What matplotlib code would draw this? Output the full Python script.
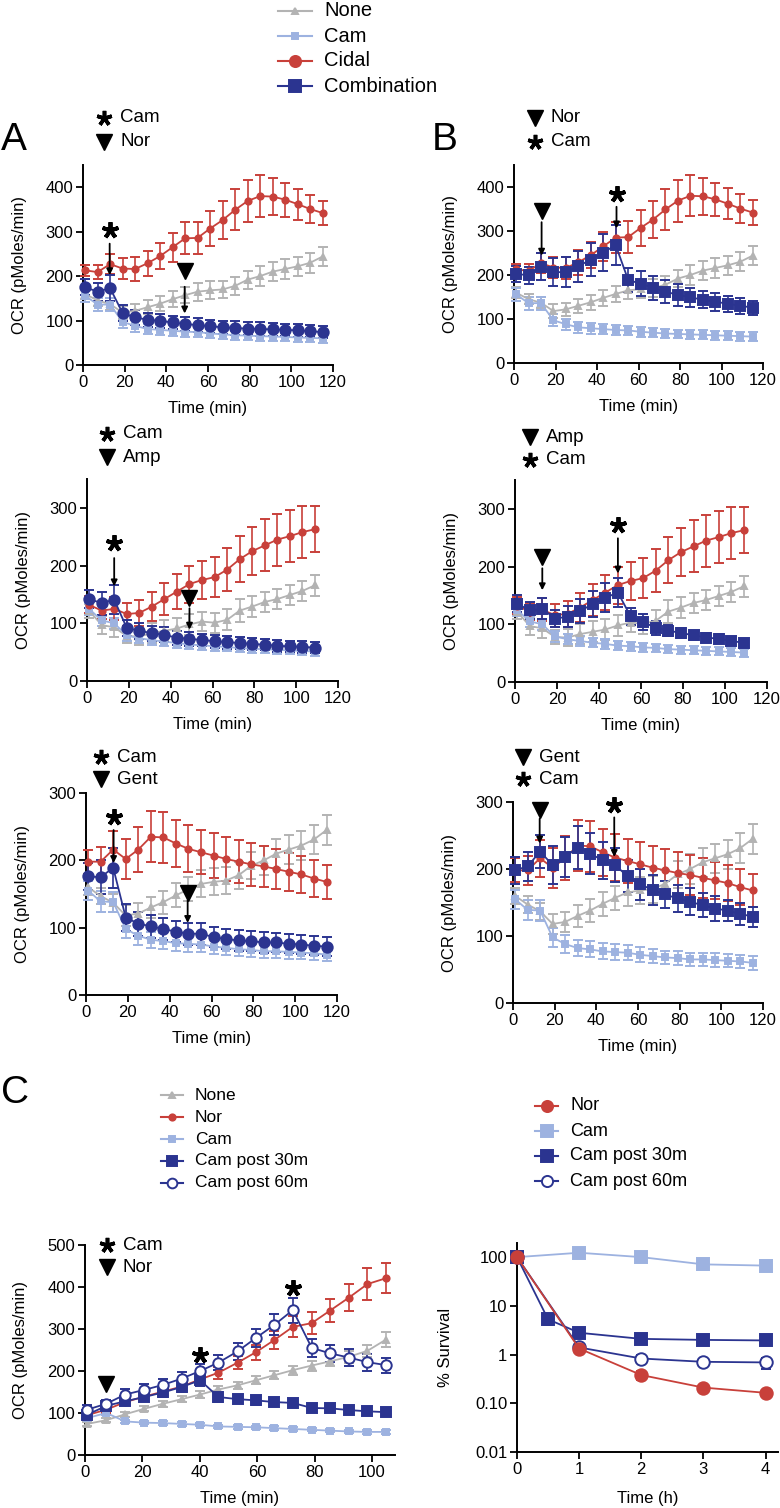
import numpy as np
import matplotlib
matplotlib.use("Agg")
import matplotlib.pyplot as plt
from matplotlib.ticker import FixedLocator, NullLocator

plt.rcParams['font.family'] = ['Liberation Sans', 'DejaVu Sans']

GRAY = '#b3b3b3'
LIGHT = '#9db2e0'
RED = '#c8403a'
NAVY = '#2b3490'

# ---- data: panels A/B (OCR, pMoles/min) ----
time_120 = [1, 7, 13, 19, 25, 31, 37, 43, 49, 55, 61, 67, 73, 79, 85, 91, 97, 103, 109, 115]
time_110 = [1, 7, 13, 19, 25, 31, 37, 43, 49, 55, 61, 67, 73, 79, 85, 91, 97, 103, 109]

nor_none = [160, 145, 137, 118, 122, 130, 138, 148, 157, 165, 168, 170, 178, 192, 200, 210, 216, 222, 230, 244]
nor_none_err = [12, 12, 13, 15, 15, 16, 17, 18, 18, 20, 20, 20, 20, 20, 22, 22, 22, 22, 22, 22]
nor_cam = [156, 136, 136, 97, 88, 81, 79, 77, 75, 74, 71, 69, 67, 66, 65, 64, 63, 62, 61, 60]
nor_cam_err = [14, 15, 15, 14, 13, 12, 12, 12, 12, 11, 11, 11, 10, 10, 10, 10, 10, 10, 10, 10]
nor_cidal = [213, 209, 227, 217, 216, 229, 245, 265, 285, 286, 307, 326, 349, 369, 380, 379, 372, 362, 351, 342]
nor_cidal_err = [13, 15, 22, 24, 26, 28, 30, 33, 36, 36, 40, 42, 46, 48, 47, 42, 38, 35, 32, 28]
nor_comb_a = [175, 165, 173, 117, 107, 102, 99, 96, 92, 90, 87, 85, 83, 82, 81, 80, 79, 78, 76, 74]
nor_comb_a_err = [18, 20, 30, 18, 17, 16, 15, 15, 15, 15, 15, 15, 15, 15, 15, 14, 14, 14, 14, 14]
nor_comb_b = [203, 199, 219, 206, 207, 220, 235, 251, 268, 189, 180, 171, 162, 155, 149, 144, 139, 135, 130, 126]
nor_comb_b_err = [18, 20, 30, 32, 35, 35, 38, 42, 45, 28, 28, 27, 26, 25, 22, 20, 20, 18, 18, 16]

amp_none = [122, 97, 93, 78, 77, 83, 87, 91, 98, 103, 101, 106, 122, 129, 137, 142, 149, 156, 166]
amp_none_err = [12, 15, 17, 12, 15, 17, 18, 18, 18, 17, 17, 18, 20, 18, 18, 18, 18, 18, 18]
amp_cam = [125, 105, 100, 79, 74, 71, 68, 66, 63, 62, 60, 59, 57, 56, 55, 54, 53, 52, 51]
amp_cam_err = [10, 10, 10, 9, 9, 9, 8, 8, 8, 8, 8, 7, 7, 7, 7, 7, 7, 7, 7]
amp_cidal = [132, 122, 125, 116, 118, 129, 142, 155, 168, 175, 180, 193, 211, 225, 235, 245, 251, 258, 263]
amp_cidal_err = [15, 15, 20, 20, 22, 25, 28, 30, 32, 33, 35, 37, 40, 42, 45, 45, 45, 45, 40]
amp_comb_a = [142, 135, 141, 92, 87, 83, 80, 75, 73, 71, 69, 67, 66, 64, 63, 61, 60, 59, 58]
amp_comb_a_err = [15, 20, 25, 14, 14, 13, 13, 12, 12, 11, 11, 11, 10, 10, 10, 10, 10, 10, 9]
amp_comb_b = [136, 124, 127, 110, 113, 123, 135, 146, 155, 114, 104, 94, 89, 85, 81, 77, 75, 71, 68]
amp_comb_b_err = [15, 15, 18, 15, 18, 20, 22, 25, 25, 15, 14, 12, 10, 9, 8, 8, 8, 7, 7]

gent_none = [160, 147, 137, 118, 121, 130, 138, 148, 157, 165, 168, 170, 178, 192, 200, 210, 216, 222, 231, 245]
gent_none_err = [12, 12, 13, 15, 15, 16, 17, 18, 18, 20, 20, 20, 20, 20, 22, 22, 22, 22, 22, 22]
gent_cam = [155, 139, 138, 98, 88, 82, 80, 77, 76, 75, 72, 70, 68, 67, 65, 65, 64, 63, 62, 60]
gent_cam_err = [14, 15, 15, 14, 13, 12, 12, 12, 12, 11, 11, 11, 10, 10, 10, 10, 10, 10, 10, 10]
gent_cidal = [198, 198, 216, 202, 216, 235, 234, 225, 217, 212, 207, 202, 198, 194, 191, 187, 183, 179, 173, 168]
gent_cidal_err = [18, 22, 28, 30, 33, 38, 38, 35, 35, 33, 33, 33, 32, 32, 30, 30, 28, 27, 27, 25]
gent_comb_a = [176, 175, 189, 115, 106, 102, 98, 94, 91, 91, 86, 83, 81, 80, 78, 78, 76, 75, 73, 72]
gent_comb_a_err = [20, 25, 30, 20, 18, 17, 17, 16, 16, 16, 15, 15, 15, 15, 15, 14, 14, 14, 14, 14]
gent_comb_b = [198, 204, 226, 206, 218, 232, 223, 213, 206, 189, 177, 169, 162, 156, 151, 146, 141, 138, 133, 129]
gent_comb_b_err = [20, 22, 25, 28, 30, 32, 30, 28, 25, 24, 23, 22, 20, 20, 20, 18, 18, 16, 16, 15]

# ---- data: panel C (OCR) ----
time_c = [0.8, 7.4, 14.0, 20.6, 27.2, 33.7, 40.1, 46.5, 53.2, 59.6, 66.0, 72.4, 79.0, 85.4, 92.0, 98.4, 104.9]
c_none = [74, 83, 97, 110, 122, 133, 144, 156, 166, 178, 190, 202, 213, 223, 234, 248, 275]
c_none_err = [5, 5, 6, 6, 7, 7, 8, 8, 9, 10, 10, 11, 12, 12, 14, 15, 17]
c_nor = [95, 108, 126, 139, 151, 163, 180, 196, 220, 245, 274, 305, 314, 344, 375, 407, 421]
c_nor_err = [6, 7, 8, 9, 10, 11, 12, 14, 16, 18, 22, 25, 26, 28, 32, 38, 35]
c_cam = [88, 100, 80, 77, 76, 74, 72, 68, 67, 66, 64, 62, 60, 58, 56, 55, 55]
c_cam_err = [4, 4, 4, 4, 4, 4, 4, 4, 4, 4, 4, 4, 4, 4, 4, 4, 4]
c_post30 = [96, 117, 128, 138, 149, 162, 178, 138, 133, 130, 126, 124, 112, 111, 107, 104, 102]
c_post30_err = [8, 10, 10, 10, 12, 12, 14, 12, 10, 10, 9, 9, 8, 8, 8, 7, 7]
c_post60 = [108, 122, 144, 155, 167, 182, 200, 220, 247, 279, 310, 345, 255, 242, 232, 221, 214]
c_post60_err = [10, 10, 12, 13, 14, 15, 16, 18, 20, 22, 25, 30, 22, 20, 20, 20, 18]

# ---- data: panel C survival ----
surv_time = [0, 1, 2, 3, 4]
surv_nor = [100, 1.33, 0.38, 0.21, 0.164]
surv_nor_err = [0, 0.2, 0.08, 0.02, 0.02]
surv_cam = [100, 123, 100, 71, 67]
surv_cam_err = [0, 25, 12, 6, 5]
surv30_time = [0, 0.5, 1, 2, 3, 4]
surv_30 = [100, 5.3, 2.8, 2.1, 2.0, 1.95]
surv_30_err = [0, 1.3, 0.4, 0.3, 0.25, 0.25]
surv_60 = [100, 1.4, 0.83, 0.71, 0.69]
surv_60_err = [0, 0.12, 0.15, 0.06, 0.18]

W, H = 780, 1508
fig = plt.figure(figsize=(W / 100, H / 100), dpi=100)


def axes_px(l, t, r, b):
    return fig.add_axes([l / W, 1 - b / H, (r - l) / W, (b - t) / H])


def style(ax):
    for s in ['top', 'right']:
        ax.spines[s].set_visible(False)
    for s in ['left', 'bottom']:
        ax.spines[s].set_linewidth(1.4)
    ax.tick_params(direction='out', length=5, width=1.3, labelsize=12, pad=2)


def series(ax, t, y, e, color, marker, ms, mfc=None, lw=1.3):
    ax.errorbar(t, y, yerr=e, color=color, marker=marker, ms=ms, mfc=mfc or color,
                mec=color, mew=1.4, lw=lw, elinewidth=1.2, capsize=3.5, capthick=1.2,
                clip_on=False, zorder=3)


def star(ax, t, y):
    ax.plot([t], [y], marker=(5, 2, 0), ms=12, mew=2.8, color='k', clip_on=False, zorder=5)


def tri(ax, t, y):
    ax.plot([t], [y], marker='v', ms=12, color='k', clip_on=False, zorder=5)


def arrow(ax, t, y0, y1):
    ax.annotate('', xy=(t, y1), xytext=(t, y0),
                arrowprops=dict(arrowstyle='-|>', color='k', lw=1.3, mutation_scale=9,
                                shrinkA=0, shrinkB=0), zorder=6)


def ocr_panel(ax, ymax, xmax, tt, none, none_e, cam, cam_e, cid, cid_e, comb, comb_e, comb_marker):
    style(ax)
    series(ax, tt, none, none_e, GRAY, '^', 5)
    series(ax, tt, cam, cam_e, LIGHT, 's', 4.5)
    series(ax, tt, cid, cid_e, RED, 'o', 4.5)
    series(ax, tt, comb, comb_e, NAVY, comb_marker, 7.5)
    ax.set_xlim(0, xmax)
    ax.set_ylim(0, ymax)
    ax.set_xticks([0, 20, 40, 60, 80, 100, 120])
    ax.set_yticks(range(0, int(ymax) + 1, 100))
    ax.set_ylabel('OCR (pMoles/min)', fontsize=12, labelpad=13)
    ax.set_xlabel('Time (min)', fontsize=12, labelpad=8)


# overlay for keys, legends and panel letters (pixel coordinates)
ov = fig.add_axes([0, 0, 1, 1], zorder=10)
ov.set_xlim(0, W)
ov.set_ylim(H, 0)
ov.axis('off')


def key(x, y, sym, label, fs=13.5):
    if sym == '*':
        ov.plot([x], [y], marker=(5, 2, 0), ms=11, mew=2.6, color='k')
    else:
        ov.plot([x], [y], marker='v', ms=12, color='k')
    ov.text(x + 16, y, label, fontsize=fs, va='center', ha='left')


def leg_row(x0, x1, y, color, marker, ms, label, fs, mfc=None):
    ov.plot([x0, x1], [y, y], color=color, lw=1.5)
    ov.plot([(x0 + x1) / 2], [y], marker=marker, ms=ms, color=color, mfc=mfc or color, mew=1.4)
    ov.text(x1 + 12, y, label, fontsize=fs, va='center', ha='left')


# top legend
leg_row(278, 312, 11, GRAY, '^', 5, 'None', 14.5)
leg_row(278, 312, 36, LIGHT, 's', 5, 'Cam', 14.5)
leg_row(278, 312, 61, RED, 'o', 8, 'Cidal', 14.5)
leg_row(278, 312, 86, NAVY, 's', 8, 'Combination', 14.5)

ov.text(1, 140, 'A', fontsize=28, va='center', ha='left')
ov.text(432, 140, 'B', fontsize=28, va='center', ha='left')
ov.text(1, 1093, 'C', fontsize=28, va='center', ha='left')

# --- row 1: Nor ---
axA = axes_px(83, 165, 333, 365)
ocr_panel(axA, 450, 120, time_120, nor_none, nor_none_err, nor_cam, nor_cam_err,
          nor_cidal, nor_cidal_err, nor_comb_a, nor_comb_a_err, 'o')
star(axA, 12.8, 303)
arrow(axA, 12.8, 273, 202)
tri(axA, 48.8, 212)
arrow(axA, 48.8, 176, 116)
key(104, 118, '*', 'Cam')
key(104, 142, 'v', 'Nor')

axB = axes_px(514, 165, 763, 363)
ocr_panel(axB, 450, 120, time_120, nor_none, nor_none_err, nor_cam, nor_cam_err,
          nor_cidal, nor_cidal_err, nor_comb_b, nor_comb_b_err, 's')
tri(axB, 13.3, 346)
arrow(axB, 13.3, 320, 244)
star(axB, 49.4, 383)
arrow(axB, 49.4, 355, 306)
key(535, 118, 'v', 'Nor')
key(535, 142, '*', 'Cam')

# --- row 2: Amp ---
axA2 = axes_px(87, 479, 338, 681)
ocr_panel(axA2, 350, 120, time_110, amp_none, amp_none_err, amp_cam, amp_cam_err,
          amp_cidal, amp_cidal_err, amp_comb_a, amp_comb_a_err, 'o')
star(axA2, 13, 239)
arrow(axA2, 13, 213, 164)
tri(axA2, 49, 144)
arrow(axA2, 49, 126, 89)
key(107, 434, '*', 'Cam')
key(107, 457, 'v', 'Amp')

axB2 = axes_px(515, 480, 767, 682)
ocr_panel(axB2, 350, 120, time_110, amp_none, amp_none_err, amp_cam, amp_cam_err,
          amp_cidal, amp_cidal_err, amp_comb_b, amp_comb_b_err, 's')
tri(axB2, 13, 217)
arrow(axB2, 13, 197, 159)
star(axB2, 49, 272)
arrow(axB2, 49, 249, 188)
key(530, 437, 'v', 'Amp')
key(530, 460, '*', 'Cam')

# --- row 3: Gent ---
axA3 = axes_px(86, 793, 337, 995)
ocr_panel(axA3, 300, 120, time_120, gent_none, gent_none_err, gent_cam, gent_cam_err,
          gent_cidal, gent_cidal_err, gent_comb_a, gent_comb_a_err, 'o')
star(axA3, 13.2, 265)
arrow(axA3, 13.2, 245, 196)
tri(axA3, 48.6, 151)
arrow(axA3, 48.6, 141, 107)
key(101, 757, '*', 'Cam')
key(101, 779, 'v', 'Gent')

axB3 = axes_px(513, 802, 763, 1003)
ocr_panel(axB3, 300, 120, time_120, gent_none, gent_none_err, gent_cam, gent_cam_err,
          gent_cidal, gent_cidal_err, gent_comb_b, gent_comb_b_err, 's')
tri(axB3, 12.8, 288)
arrow(axB3, 12.8, 275, 238)
star(axB3, 48.6, 295)
arrow(axB3, 48.6, 277, 218)
key(523, 757, 'v', 'Gent')
key(523, 779, '*', 'Cam')

# --- panel C left ---
axC = axes_px(85, 1245, 395, 1455)
style(axC)
series(axC, time_c, c_none, c_none_err, GRAY, '^', 5)
series(axC, time_c, c_nor, c_nor_err, RED, 'o', 4.5)
series(axC, time_c, c_cam, c_cam_err, LIGHT, 's', 4.5)
series(axC, time_c, c_post30, c_post30_err, NAVY, 's', 7.5)
series(axC, time_c, c_post60, c_post60_err, NAVY, 'o', 7.5, mfc='white')
axC.set_xlim(0, 108)
axC.set_ylim(0, 500)
axC.set_xticks([0, 20, 40, 60, 80, 100])
axC.set_yticks(range(0, 501, 100))
axC.set_ylabel('OCR (pMoles/min)', fontsize=12, labelpad=14)
axC.set_xlabel('Time (min)', fontsize=12, labelpad=8)
tri(axC, 7.4, 170)
star(axC, 40.1, 238)
star(axC, 72.4, 397)
key(107, 1245, '*', 'Cam')
key(107, 1267, 'v', 'Nor')

leg_row(161, 183, 1095, GRAY, '^', 4, 'None', 12.5)
leg_row(161, 183, 1117, RED, 'o', 4.5, 'Nor', 12.5)
leg_row(161, 183, 1139, LIGHT, 's', 4.5, 'Cam', 12.5)
leg_row(161, 183, 1161, NAVY, 's', 7, 'Cam post 30m', 12.5)
leg_row(161, 183, 1183, NAVY, 'o', 7, 'Cam post 60m', 12.5, mfc='white')

# --- panel C right: survival ---
axS = axes_px(517, 1243, 778, 1452)
style(axS)
series(axS, surv_time, surv_cam, surv_cam_err, LIGHT, 's', 9)
series(axS, surv30_time, surv_30, surv_30_err, NAVY, 's', 9)
series(axS, surv_time, surv_60, surv_60_err, NAVY, 'o', 9, mfc='white')
series(axS, surv_time, surv_nor, surv_nor_err, RED, 'o', 9)
axS.set_yscale('log')
axS.set_ylim(0.01, 195)
axS.set_xlim(0, 4.2)
axS.set_xticks([0, 1, 2, 3, 4])
axS.yaxis.set_major_locator(FixedLocator([0.01, 0.1, 1, 10, 100]))
axS.yaxis.set_minor_locator(NullLocator())
axS.set_yticklabels(['0.01', '0.10', '1', '10', '100'])
axS.set_ylabel('% Survival', fontsize=12, labelpad=16)
axS.set_xlabel('Time (h)', fontsize=12, labelpad=10)

leg_row(535, 558, 1106, RED, 'o', 8, 'Nor', 13)
leg_row(535, 558, 1131, LIGHT, 's', 8, 'Cam', 13)
leg_row(535, 558, 1156, NAVY, 's', 8, 'Cam post 30m', 13)
leg_row(535, 558, 1181, NAVY, 'o', 8, 'Cam post 60m', 13, mfc='white')

fig.savefig('out.png', dpi=100)
